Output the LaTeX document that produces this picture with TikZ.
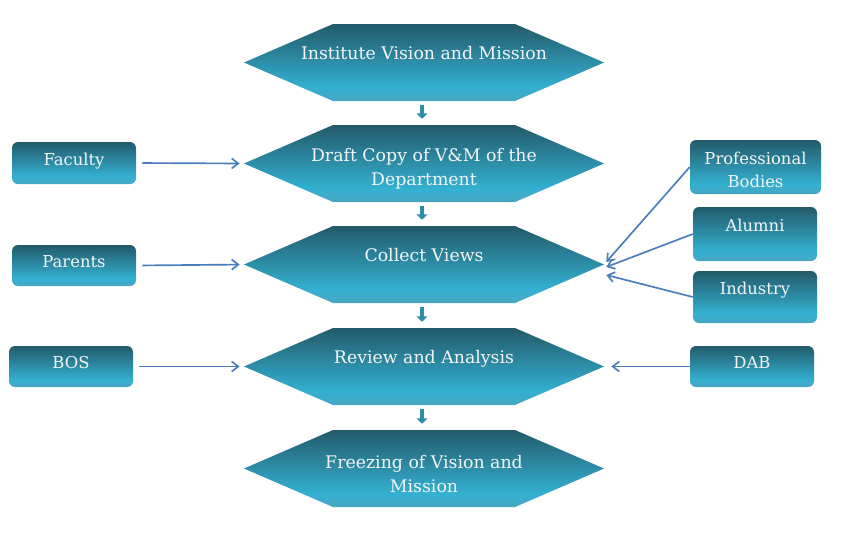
\documentclass[tikz,border=0pt]{standalone}
\usepackage{fontspec}
\setmainfont{DejaVu Serif}
\usetikzlibrary{arrows.meta}
\definecolor{tealtop}{RGB}{34,90,106}
\definecolor{tealmid}{RGB}{52,176,209}
\definecolor{tealbot}{RGB}{72,166,194}
\definecolor{txtc}{RGB}{245,245,245}
\definecolor{linkc}{RGB}{74,126,187}
\definecolor{blockc}{RGB}{46,140,172}
\pgfdeclareverticalshading{tealgrad}{100bp}{color(0bp)=(tealbot); color(25bp)=(tealbot); color(34bp)=(tealmid); color(75bp)=(tealtop); color(100bp)=(tealtop)}
\tikzset{
  hexnode/.style={minimum width=270pt, minimum height=57.75pt, inner sep=0pt,
    text=txtc, align=center, font=\fontsize{13pt}{18pt}\selectfont,
    path picture={\shade[shading=tealgrad]
      (path picture bounding box.west)
      -- ([xshift=66.75pt]path picture bounding box.north west)
      -- ([xshift=-66.75pt]path picture bounding box.north east)
      -- (path picture bounding box.east)
      -- ([xshift=-66.75pt]path picture bounding box.south east)
      -- ([xshift=66.75pt]path picture bounding box.south west)
      -- cycle;}},
  hexone/.style={hexnode, text height=9pt, text depth=14.25pt},
  sidebox/.style={shade, shading=tealgrad, rounded corners=4.5pt, minimum width=93pt,
    inner sep=0pt, text=txtc, align=center, font=\fontsize{12.3pt}{17pt}\selectfont},
  lowtext/.style={text height=9pt, text depth=6pt},
  toptext/.style={text height=9pt, text depth=13.5pt},
  link/.style={draw=linkc, line width=1.25pt, -{Straight Barb[length=5pt,width=7.5pt]}},
  blockarr/.style={draw=blockc, line width=3.5pt, -{Triangle[length=4pt,width=8pt]}}
}
\begin{document}
\begin{tikzpicture}[x=0.75pt,y=-0.75pt]
\useasboundingbox (0,0) rectangle (847,537);
% main flow
\node[hexone] (h1) at (424,62.5) {Institute Vision and Mission};
\node[hexnode] (h2) at (424,163.5) {\rule{0pt}{18pt}Draft Copy of V\&M of the\\Department};
\node[hexone] (h3) at (424,264.5) {Collect Views};
\node[hexone] (h4) at (424,366.5) {Review and Analysis};
\node[hexnode] (h5) at (424,468.5) {\rule{0pt}{18pt}Freezing of Vision and\\Mission};
% side boxes
\node[sidebox, lowtext, minimum height=31.5pt] (fac) at (74,163) {Faculty};
\node[sidebox, lowtext, minimum height=30.75pt] (par) at (74,265.5) {Parents};
\node[sidebox, lowtext, minimum height=30.75pt] (bos) at (71,366.5) {BOS};
\node[sidebox, minimum width=98.25pt, minimum height=40.5pt] (pb) at (755.5,167) {\rule{0pt}{13.5pt}Professional\\Bodies};
\node[sidebox, toptext, minimum height=40.5pt] (alu) at (755,234) {Alumni};
\node[sidebox, toptext, minimum height=39pt] (ind) at (755,297) {Industry};
\node[sidebox, lowtext, minimum height=30.75pt] (dab) at (752,366.5) {DAB};
% block arrows
\draw[blockarr] ([xshift=-1.5pt,yshift=-3pt]h1.south) -- ([xshift=-1.5pt,yshift=4.5pt]h2.north);
\draw[blockarr] ([xshift=-1.5pt,yshift=-3pt]h2.south) -- ([xshift=-1.5pt,yshift=4.5pt]h3.north);
\draw[blockarr] ([xshift=-1.5pt,yshift=-3pt]h3.south) -- ([xshift=-1.5pt,yshift=4.5pt]h4.north);
\draw[blockarr] ([xshift=-1.5pt,yshift=-3pt]h4.south) -- ([xshift=-1.5pt,yshift=4.5pt]h5.north);
% input connectors
\draw[link, shorten <=4.5pt, shorten >=3pt] (fac.east) -- (h2.west);
\draw[link, shorten <=4.5pt, shorten >=3pt] (par.east) -- (h3.west);
\draw[link, shorten <=4.5pt, shorten >=3pt] (bos.east) -- (h4.west);
\draw[link] (pb.west) -- ([shift={(2,-2.5)}]h3.east);
\draw[link] (alu.west) -- ([shift={(2,2.5)}]h3.east);
\draw[link] (ind.west) -- ([shift={(2,10.5)}]h3.east);
\draw[link, shorten >=5.25pt] (dab.west) -- (h4.east);
\end{tikzpicture}
\end{document}
